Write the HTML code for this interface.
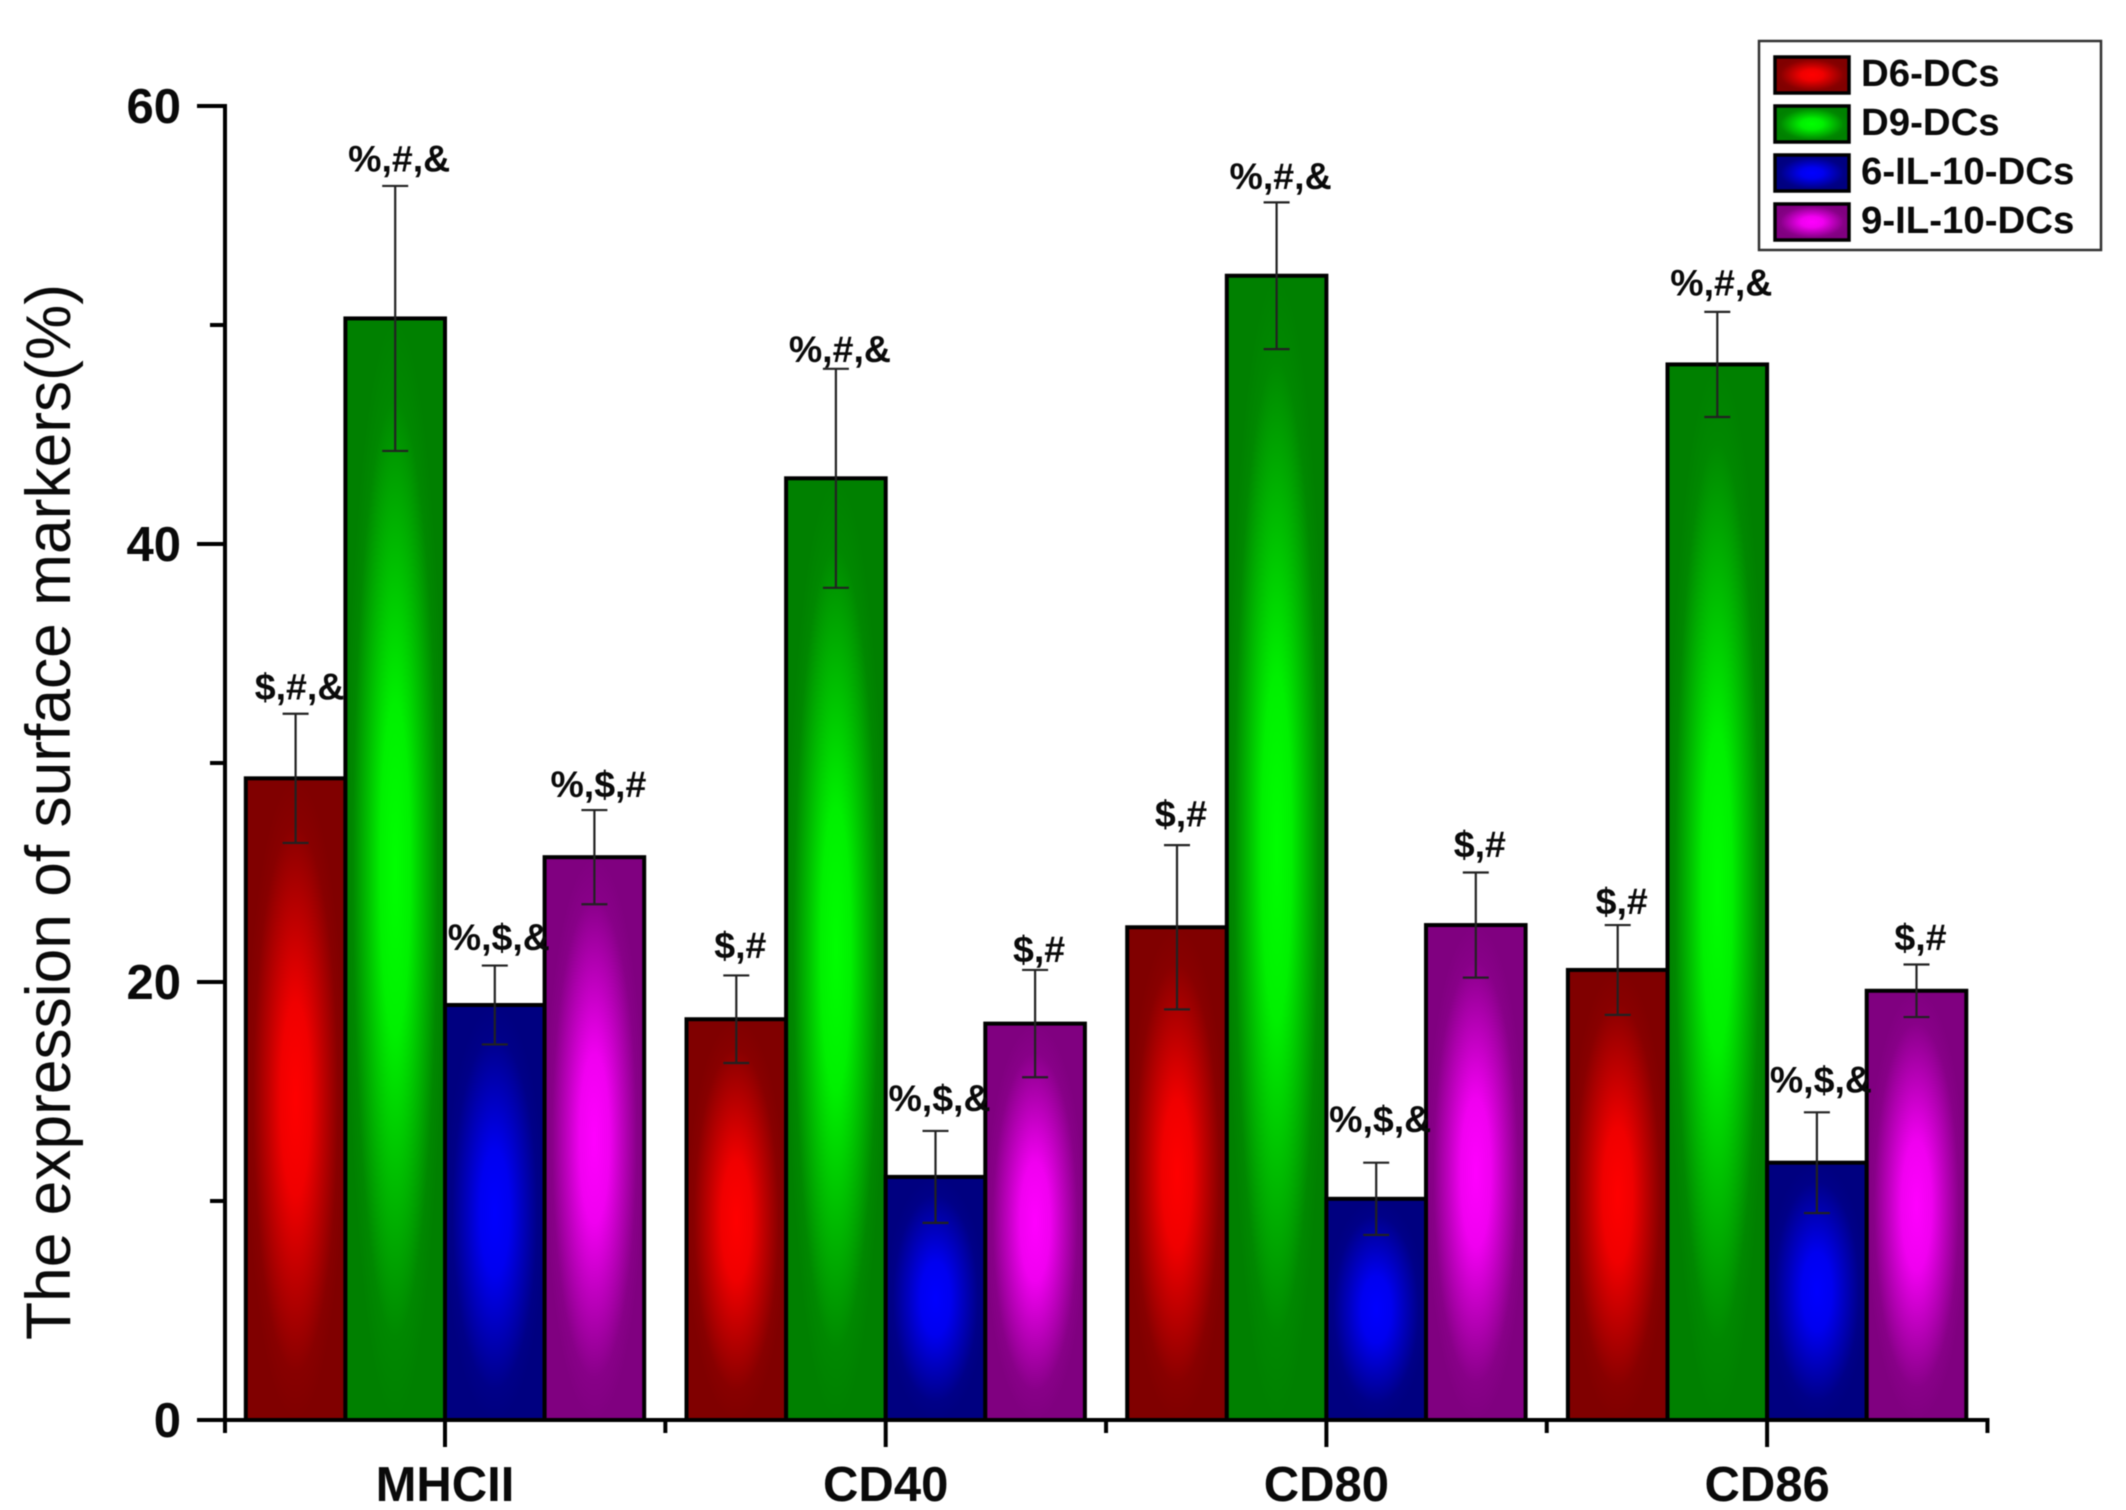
<!DOCTYPE html>
<html>
<head>
<meta charset="utf-8">
<title>Expression of surface markers</title>
<style>
html,body{margin:0;padding:0;background:#fff;}
svg{display:block;filter:blur(0.6px);}
text{font-family:"Liberation Sans",sans-serif;fill:#0a0a0a;}
</style>
</head>
<body>
<svg id="chart" xmlns="http://www.w3.org/2000/svg" width="2126" height="1510" viewBox="0 0 2126 1510">
  <defs>
    <radialGradient id="grad-0"><stop offset="0" stop-color="#ff0000"/><stop offset="0.3" stop-color="#f00000"/><stop offset="0.55" stop-color="#c00000"/><stop offset="0.85" stop-color="#880000"/><stop offset="1" stop-color="#800000"/></radialGradient>
    <radialGradient id="grad-1"><stop offset="0" stop-color="#00ff00"/><stop offset="0.3" stop-color="#00f000"/><stop offset="0.55" stop-color="#00c000"/><stop offset="0.85" stop-color="#008800"/><stop offset="1" stop-color="#008000"/></radialGradient>
    <radialGradient id="grad-2"><stop offset="0" stop-color="#0000ff"/><stop offset="0.3" stop-color="#0000f0"/><stop offset="0.55" stop-color="#0000c0"/><stop offset="0.85" stop-color="#000088"/><stop offset="1" stop-color="#000080"/></radialGradient>
    <radialGradient id="grad-3"><stop offset="0" stop-color="#ff00ff"/><stop offset="0.3" stop-color="#f000f0"/><stop offset="0.55" stop-color="#c000c0"/><stop offset="0.85" stop-color="#880088"/><stop offset="1" stop-color="#800080"/></radialGradient>
  </defs>
  <rect x="0" y="0" width="2126" height="1510" fill="#ffffff"/>
  <g id="bars"></g>
  <g id="errors"></g>
  <g id="labels"></g>
  <g id="axes"></g>
  <text transform="translate(70 812) rotate(-90)" text-anchor="middle" font-size="63" textLength="1056" lengthAdjust="spacingAndGlyphs">The expression of surface markers(%)</text>
  <g id="legend">
    <rect x="1759" y="41" width="342" height="209" fill="#fff" stroke="#333" stroke-width="2.5"/>
  </g>
</svg>
<script>
const categories = ['MHCII', 'CD40', 'CD80', 'CD86'];
const seriesNames = ['D6-DCs', 'D9-DCs', '6-IL-10-DCs', '9-IL-10-DCs'];
const d6Values = [29.3, 18.3, 22.5, 20.55];
const d9Values = [50.3, 43.0, 52.25, 48.2];
const il6Values = [18.95, 11.1, 10.1, 11.75];
const il9Values = [25.7, 18.1, 22.6, 19.6];
const d6Errors = [2.95, 2.0, 3.75, 2.05];
const d9Errors = [6.05, 5.0, 3.35, 2.4];
const il6Errors = [1.8, 2.1, 1.65, 2.3];
const il9Errors = [2.15, 2.45, 2.4, 1.2];
const d6Marks = ['$,#,&', '$,#', '$,#', '$,#'];
const d9Marks = ['%,#,&', '%,#,&', '%,#,&', '%,#,&'];
const il6Marks = ['%,$,&', '%,$,&', '%,$,&', '%,$,&'];
const il9Marks = ['%,$,#', '$,#', '$,#', '$,#'];
const d6MarkLevels = [33.5, 21.7, 27.7, 23.7];
const d9MarkLevels = [57.6, 48.9, 56.8, 51.95];
const il6MarkLevels = [22.05, 14.7, 13.75, 15.55];
const il9MarkLevels = [29.05, 21.5, 26.3, 22.05];
const yMajorTicks = [0, 20, 40, 60];
const yMinorTicks = [10, 30, 50];

const allValues = [d6Values, d9Values, il6Values, il9Values];
const allErrors = [d6Errors, d9Errors, il6Errors, il9Errors];
const allMarks = [d6Marks, d9Marks, il6Marks, il9Marks];
const allLevels = [d6MarkLevels, d9MarkLevels, il6MarkLevels, il9MarkLevels];

const NS = 'http://www.w3.org/2000/svg';
const Y0 = 1420, YSCALE = 21.9;
const X0 = 445, XSTEP = 440.7, BARW = 99.6;
function yPos(v) { return Y0 - v * YSCALE; }
function xCenter(i) { return X0 + i * XSTEP; }
function xBar(i, s) { return xCenter(i) + (s - 2) * BARW; }

function make(tag, attrs, parent, text) {
  const el = document.createElementNS(NS, tag);
  for (const k in attrs) el.setAttribute(k, attrs[k]);
  if (text !== undefined) el.textContent = text;
  parent.appendChild(el);
  return el;
}

const barsG = document.getElementById('bars');
const errG = document.getElementById('errors');
const labG = document.getElementById('labels');
const axG = document.getElementById('axes');
const legG = document.getElementById('legend');

allValues.forEach(function (vals, s) {
  vals.forEach(function (v, i) {
    const x = xBar(i, s);
    const bar = make('rect', { x: x, y: yPos(v), width: BARW, height: Y0 - yPos(v), fill: 'url(#grad-' + s + ')', stroke: '#000', 'stroke-width': 4 }, barsG);
    
    

    const cx = x + BARW / 2;
    const e = allErrors[s][i];
    const hi = yPos(v + e), lo = yPos(v - e);
    const stem = make('line', { x1: cx, x2: cx, y1: hi, y2: lo, stroke: '#222', 'stroke-width': 2.2 }, errG);
    
    
    const capHi = make('line', { x1: cx - 13, x2: cx + 13, y1: hi, y2: hi, stroke: '#222', 'stroke-width': 2.2 }, errG);
    
    
    const capLo = make('line', { x1: cx - 13, x2: cx + 13, y1: lo, y2: lo, stroke: '#222', 'stroke-width': 2.2 }, errG);
    
    

    const mark = make('text', { x: cx + 4, y: yPos(allLevels[s][i]) + 13, 'text-anchor': 'middle', 'font-size': 37.5, 'font-weight': 'bold' }, labG, allMarks[s][i]);
    
    
  });
});

const yAxisLine = make('line', { x1: 225, x2: 225, y1: yPos(60) - 2, y2: 1433, stroke: '#000', 'stroke-width': 4 }, axG);


const xAxisLine = make('line', { x1: 197, x2: X0 - XSTEP / 2 + XSTEP * categories.length + 2, y1: Y0, y2: Y0, stroke: '#000', 'stroke-width': 4 }, axG);



yMajorTicks.forEach(function (t) {
  const tick = make('line', { x1: 197, x2: 225, y1: yPos(t), y2: yPos(t), stroke: '#000', 'stroke-width': 4 }, axG);
  
  
  const label = make('text', { x: 181, y: yPos(t) + 17, 'text-anchor': 'end', 'font-size': 49, 'font-weight': 'bold' }, axG, String(t));
  
  
});
yMinorTicks.forEach(function (t) {
  const tick = make('line', { x1: 210, x2: 225, y1: yPos(t), y2: yPos(t), stroke: '#000', 'stroke-width': 4 }, axG);
  
  
});

categories.forEach(function (c, i) {
  const cx = xCenter(i);
  const tick = make('line', { x1: cx, x2: cx, y1: Y0, y2: 1447, stroke: '#000', 'stroke-width': 4 }, axG);
  
  
  const minor = make('line', { x1: cx + XSTEP / 2, x2: cx + XSTEP / 2, y1: Y0, y2: 1433, stroke: '#000', 'stroke-width': 4 }, axG);
  
  
  const label = make('text', { x: cx, y: 1501, 'text-anchor': 'middle', 'font-size': 49, 'font-weight': 'bold' }, axG, c);
  
  
});

seriesNames.forEach(function (n, s) {
  const top = 57 + s * 49;
  const swatch = make('rect', { x: 1775, y: top, width: 74, height: 36, fill: 'url(#grad-' + s + ')', stroke: '#000', 'stroke-width': 3.5 }, legG);
  
  
  const label = make('text', { x: 1861, y: top + 29, 'font-size': 38.4, 'font-weight': 'bold' }, legG, n);
  
  
});
</script>
</body>
</html>
